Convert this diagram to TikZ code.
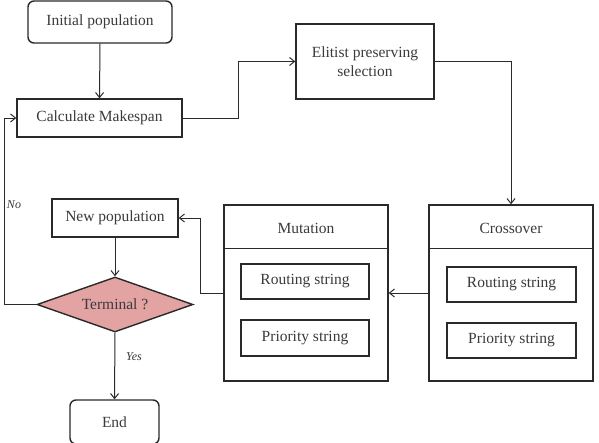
\documentclass[tikz,border=0pt]{standalone}
\usepackage{fontspec}
\setmainfont{Liberation Serif}
\usetikzlibrary{shapes.geometric,arrows.meta,calc}
\definecolor{txt}{HTML}{3A3A3A}
\definecolor{ln}{HTML}{2A2A2A}
\definecolor{pinkfill}{HTML}{E3A3A3}
\tikzset{
  box/.style={draw=ln, line width=1.4pt, minimum width=#1, inner sep=0pt, text=txt, font=\fontsize{15.5}{19}\selectfont, align=center},
  rbox/.style={box=#1, rounded corners=6pt},
  arr/.style={draw=ln, line width=1pt, -{Straight Barb[length=5pt,width=8pt]}},
  conn/.style={draw=ln, line width=1pt},
  lbl/.style={text=txt, font=\fontsize{12}{14}\selectfont\itshape, inner sep=0pt},
  hdr/.style={text=txt, font=\fontsize{15.5}{17}\selectfont}
}
\begin{document}
\begin{tikzpicture}[x=1pt,y=-1pt]
\useasboundingbox (0,0) rectangle (599,442);
\fill[white] (0,0) rectangle (599,442);
% nodes
\node[rbox=144pt, minimum height=42pt] (init) at (100,22) {Initial population};
\node[box=165pt, minimum height=38pt] (calc) at (99.5,118) {Calculate Makespan};
\node[box=138pt, minimum height=75pt] (elit) at (365,61.5) {Elitist preserving\\selection};
\node[box=126pt, minimum height=38pt] (newpop) at (115,218) {New population};
\node[diamond, draw=ln, line width=1.4pt, fill=pinkfill, aspect=2.84, inner sep=0pt, minimum width=156pt, minimum height=55pt, text=txt, font=\fontsize{15.5}{17}\selectfont] (term) at (115,304.5) {Terminal ?};
\node[rbox=89pt, minimum height=44pt] (end) at (114.5,422) {End};
% Mutation container
\node[box=164pt, minimum height=176pt] (mut) at (306,293) {};
\node[hdr] (mutlbl) at (306,228) {Mutation};
\draw[draw=ln, line width=1.2pt] ($(mut.north west)+(0,44)$) -- ($(mut.north east)+(0,44)$);
\node[box=128pt, minimum height=35pt] (mroute) at (305,281.5) {Routing string};
\node[box=128pt, minimum height=36pt] (mprio) at (305,338) {Priority string};
% Crossover container
\node[box=164pt, minimum height=176pt] (cross) at (511,293) {};
\node[hdr] (crosslbl) at (511,228) {Crossover};
\draw[draw=ln, line width=1.2pt] ($(cross.north west)+(0,44)$) -- ($(cross.north east)+(0,44)$);
\node[box=129pt, minimum height=35pt] (croute) at (511.5,284.5) {Routing string};
\node[box=129pt, minimum height=35pt] (cprio) at (511.5,340.5) {Priority string};
% connectors
\draw[arr] (init.south) -- (calc.north);
\draw[arr] (calc.east) -- ++(56,0) |- (elit.west);
\draw[arr] (elit.east) -| (cross.north);
\draw[arr] (cross.west) -- (mut.east);
\draw[arr] (mut.west) -- ++(-23,0) |- (newpop.east);
\draw[arr] (newpop.south) -- (term.north);
\draw[arr] (term.west) -- ++(-32,0) |- (calc.west);
\draw[arr] (term.south) -- (end.north);
\node[lbl] (nolbl) at (14,205) {No};
\node[lbl] (yeslbl) at (134,357) {Yes};
\end{tikzpicture}
\end{document}
